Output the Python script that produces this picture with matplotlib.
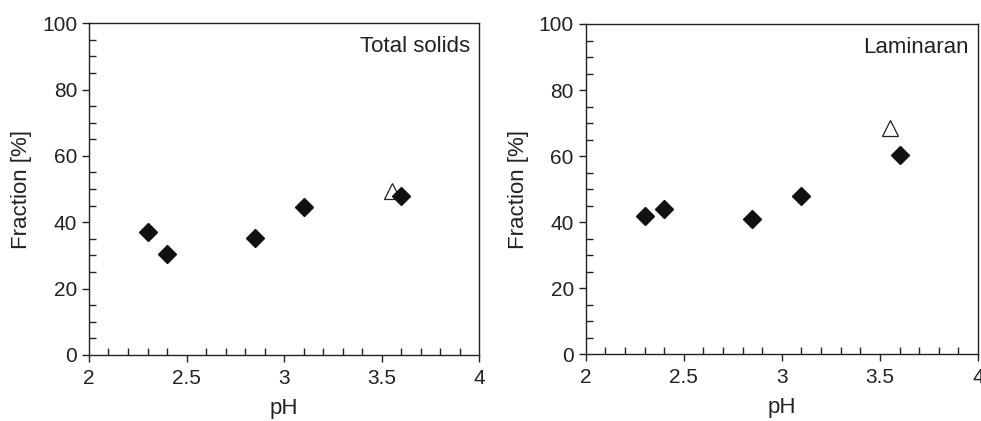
import matplotlib
matplotlib.use("Agg")
import matplotlib.pyplot as plt
from matplotlib.ticker import MultipleLocator, FuncFormatter

plt.rcParams['font.family'] = ['Liberation Sans', 'DejaVu Sans']

ph = [2.3, 2.4, 2.85, 3.1, 3.6]
solids = [37.1, 30.3, 35.1, 44.6, 47.8]
laminaran = [41.8, 43.8, 41.0, 47.9, 60.3]
ph_open = [3.55]
solids_open = [49.3]
laminaran_open = [68.4]
panel_labels = ["Total solids", "Laminaran"]

fig = plt.figure(figsize=(9.81, 4.21), dpi=100)
ax1 = fig.add_axes([0.0907, 0.157, 0.398, 0.788])
ax2 = fig.add_axes([0.597, 0.159, 0.400, 0.784])

spine_col = '#222222'
for ax, ys, yo, lab in [(ax1, solids, solids_open, panel_labels[0]),
                        (ax2, laminaran, laminaran_open, panel_labels[1])]:
    ax.plot(ph_open, yo, linestyle='none', marker='^', markersize=11,
            markerfacecolor='white', markeredgecolor='#222222', markeredgewidth=0.9, zorder=3)
    ax.plot(ph, ys, linestyle='none', marker='D', markersize=8.7,
            markerfacecolor='#111111', markeredgecolor='#111111', zorder=4)
    ax.set_xlim(2, 4)
    ax.set_ylim(0, 100)
    ax.xaxis.set_major_locator(MultipleLocator(0.5))
    ax.xaxis.set_minor_locator(MultipleLocator(0.1))
    ax.yaxis.set_major_locator(MultipleLocator(20))
    ax.yaxis.set_minor_locator(MultipleLocator(5))
    ax.tick_params(which='major', direction='out', length=5, width=1.0,
                   color=spine_col, labelsize=15, labelcolor='#222222')
    ax.tick_params(axis='x', which='major', pad=5)
    ax.tick_params(which='minor', direction='in', length=5, width=1.0, color=spine_col)
    ax.xaxis.set_major_formatter(FuncFormatter(lambda v, p: ('%g' % v)))
    for s in ax.spines.values():
        s.set_color(spine_col)
        s.set_linewidth(1.0)
    ax.set_xlabel('pH', fontsize=16, color='#222222', labelpad=7)
    ax.set_ylabel('Fraction [%]', fontsize=16, color='#222222', labelpad=7)
    ax.text(0.975, 0.96, lab, transform=ax.transAxes, ha='right', va='top',
            fontsize=16, color='#222222')

fig.savefig('out.png', dpi=100)
